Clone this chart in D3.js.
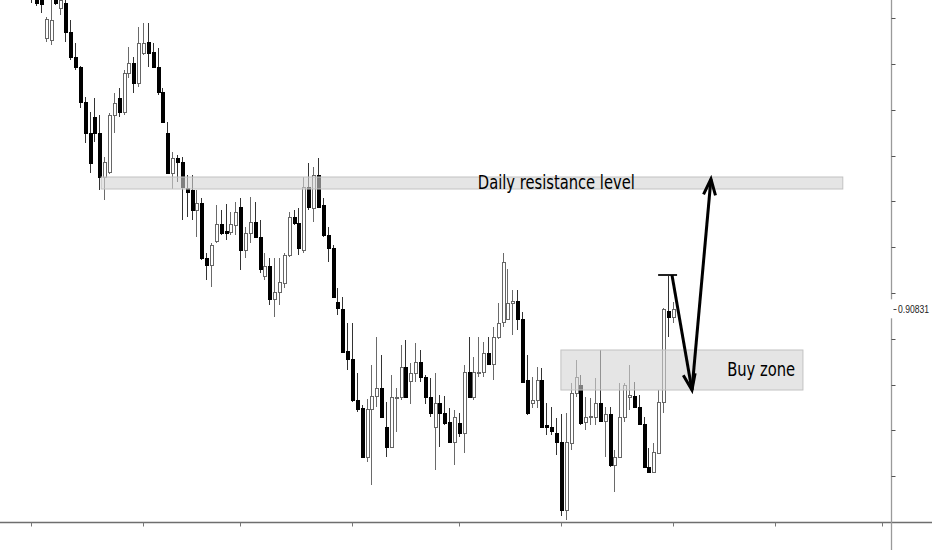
<!DOCTYPE html>
<html><head><meta charset="utf-8">
<script src="https://cdn.jsdelivr.net/npm/d3@7"></script>
<style>html,body{margin:0;padding:0;background:#fff;overflow:hidden}</style>
</head><body>
<svg id="chart" width="932" height="550"></svg>
<script>
// ---- data (chronological hourly candles) ----
const opens = [0.92450,0.92425,0.92400,0.92185,0.92175,0.92415,0.92335,0.92360,0.92215,0.92090,0.92040,0.91865,0.91710,0.91790,0.91710,0.91490,0.91515,0.91800,0.91885,0.91815,0.92010,0.92060,0.91960,0.92110,0.92165,0.92115,0.92040,0.91915,0.91710,0.91510,0.91585,0.91565,0.91435,0.91425,0.91325,0.91360,0.91085,0.91050,0.91170,0.91255,0.91220,0.91215,0.91250,0.91340,0.91125,0.91210,0.91265,0.91190,0.90995,0.91045,0.90880,0.90915,0.90960,0.91100,0.91290,0.91260,0.91125,0.91440,0.91335,0.91500,0.91350,0.91200,0.91135,0.90865,0.90830,0.90620,0.90580,0.90375,0.90335,0.90090,0.90330,0.90395,0.90435,0.90240,0.90140,0.90385,0.90390,0.90540,0.90470,0.90510,0.90565,0.90490,0.90390,0.90240,0.90360,0.90310,0.90265,0.90165,0.90260,0.90210,0.90515,0.90390,0.90510,0.90515,0.90610,0.90555,0.90690,0.90765,0.90780,0.90860,0.90870,0.90780,0.90475,0.90360,0.90375,0.90475,0.90250,0.90240,0.90210,0.90165,0.89825,0.90160,0.90410,0.90450,0.90265,0.90290,0.90290,0.90360,0.90270,0.90305,0.90050,0.90090,0.90290,0.90390,0.90395,0.90340,0.90255,0.90040,0.90015,0.90110,0.90365,0.90820,0.90790];
const highs = [0.92500,0.92475,0.92450,0.92290,0.92400,0.92450,0.92425,0.92385,0.92275,0.92160,0.92045,0.91890,0.91815,0.91885,0.91800,0.91590,0.91810,0.91910,0.91935,0.92025,0.92140,0.92090,0.92240,0.92260,0.92260,0.92160,0.92135,0.91935,0.91765,0.91615,0.91600,0.91590,0.91500,0.91500,0.91425,0.91385,0.91110,0.91160,0.91350,0.91325,0.91355,0.91315,0.91365,0.91385,0.91240,0.91390,0.91365,0.91275,0.91110,0.91085,0.91085,0.91085,0.91110,0.91315,0.91325,0.91335,0.91490,0.91560,0.91540,0.91585,0.91385,0.91240,0.91150,0.90935,0.90890,0.90760,0.90760,0.90510,0.90350,0.90380,0.90550,0.90690,0.90600,0.90365,0.90500,0.90435,0.90650,0.90675,0.90560,0.90660,0.90625,0.90500,0.90485,0.90510,0.90400,0.90395,0.90335,0.90325,0.90310,0.90550,0.90690,0.90590,0.90690,0.90665,0.90690,0.90740,0.90860,0.91110,0.91030,0.90925,0.90925,0.90815,0.90600,0.90490,0.90540,0.90535,0.90360,0.90340,0.90285,0.90305,0.90310,0.90460,0.90575,0.90500,0.90390,0.90385,0.90485,0.90625,0.90340,0.90340,0.90125,0.90460,0.90460,0.90550,0.90465,0.90400,0.90290,0.90135,0.90160,0.90425,0.90835,0.90995,0.90865];
const lows = [0.92360,0.92345,0.92310,0.92165,0.92150,0.92350,0.92300,0.92165,0.92075,0.92025,0.91835,0.91660,0.91510,0.91665,0.91425,0.91375,0.91505,0.91710,0.91790,0.91800,0.91985,0.91910,0.91940,0.92100,0.92040,0.92035,0.91900,0.91760,0.91505,0.91430,0.91465,0.91275,0.91290,0.91275,0.91190,0.91075,0.90975,0.90940,0.91160,0.91200,0.91175,0.91200,0.91200,0.91025,0.91085,0.91160,0.91185,0.91010,0.90975,0.90850,0.90790,0.90850,0.90935,0.91090,0.91250,0.91100,0.91110,0.91325,0.91265,0.91335,0.91190,0.91065,0.90885,0.90800,0.90610,0.90525,0.90365,0.90315,0.90085,0.90065,0.89950,0.90340,0.90285,0.90090,0.90135,0.90215,0.90375,0.90385,0.90355,0.90465,0.90465,0.90355,0.90290,0.90025,0.90140,0.90250,0.90160,0.90050,0.90190,0.90110,0.90385,0.90375,0.90490,0.90490,0.90550,0.90475,0.90680,0.90740,0.90775,0.90700,0.90725,0.90460,0.90300,0.90335,0.90335,0.90235,0.90200,0.90200,0.90100,0.89795,0.89775,0.90125,0.90390,0.90250,0.90225,0.90250,0.90250,0.90265,0.90090,0.90040,0.89915,0.90085,0.90265,0.90325,0.90335,0.90250,0.90035,0.90010,0.90010,0.90105,0.90310,0.90690,0.90760];
const closes = [0.92400,0.92360,0.92355,0.92280,0.92275,0.92360,0.92375,0.92215,0.92090,0.92040,0.91865,0.91710,0.91560,0.91710,0.91490,0.91565,0.91800,0.91860,0.91815,0.92010,0.92060,0.91960,0.92160,0.92160,0.92110,0.92040,0.91915,0.91765,0.91510,0.91585,0.91565,0.91440,0.91415,0.91325,0.91360,0.91085,0.91050,0.91150,0.91255,0.91210,0.91210,0.91255,0.91315,0.91125,0.91210,0.91265,0.91190,0.91030,0.91045,0.90880,0.90915,0.90965,0.91100,0.91290,0.91260,0.91135,0.91440,0.91340,0.91500,0.91340,0.91200,0.91135,0.90890,0.90835,0.90615,0.90580,0.90375,0.90330,0.90090,0.90330,0.90395,0.90435,0.90290,0.90140,0.90390,0.90390,0.90540,0.90390,0.90510,0.90565,0.90490,0.90390,0.90310,0.90360,0.90310,0.90260,0.90165,0.90290,0.90210,0.90515,0.90390,0.90515,0.90515,0.90610,0.90555,0.90690,0.90760,0.91065,0.90860,0.90870,0.90780,0.90465,0.90310,0.90375,0.90475,0.90240,0.90240,0.90220,0.90165,0.89825,0.90165,0.90410,0.90490,0.90260,0.90290,0.90295,0.90360,0.90270,0.90305,0.90050,0.90090,0.90290,0.90450,0.90400,0.90340,0.90255,0.90040,0.90015,0.90115,0.90365,0.90830,0.90790,0.90831];

// day-separator ticks on the time axis (candle index)
const dayTicks = [0, 23, 43, 66, 88, 109, 132, 153, 175];
// price-axis ticks (unlabelled)
const priceTicks = [0.89994, 0.90223, 0.90452, 0.90681, 0.90910, 0.91139, 0.91368, 0.91597, 0.91826, 0.92055, 0.92284];
const lastPrice = 0.90831;
const lastPriceLabel = "0.90831";

// annotations (time index, price)
const resistanceZone = [14.4, 167.0, 0.91430, 0.91490];
const resistanceLabel = ["Daily resistance level", 91.9, 0.91428];
const buyZone = [109.0, 158.8, 0.90425, 0.90625];
const buyLabel = ["Buy zone", 143.2, 0.90495];
const highMarker = [129.0, 132.9, 0.91000];
const arrowDown = [[131.85, 0.91000], [135.96, 0.90425]];
const arrowUp = [[135.96, 0.90425], [139.87, 0.91480]];

// ---- chart ----
const W = 932, H = 550;
const N = opens.length;
const x = d3.scaleLinear().domain([0, N - 1]).range([31.2, 672.7]);
const y = d3.scaleLinear().domain([0.89765, 0.92375]).range([522, 0]);
const axisX = 891.5, axisY = 522.5;

const svg = d3.select('#chart');
svg.append('rect').attr('width', W).attr('height', H).attr('fill', '#fff');

const defs = svg.append('defs');
defs.append('clipPath').attr('id', 'clip').append('rect')
  .attr('x', 0).attr('y', 0).attr('width', axisX - 0.5).attr('height', axisY - 0.5);
defs.append('marker').attr('id', 'head').attr('markerUnits', 'userSpaceOnUse')
  .attr('viewBox', '-20 -10 24 20').attr('refX', 0).attr('refY', 0)
  .attr('markerWidth', 24).attr('markerHeight', 20).attr('orient', 'auto')
  .append('path').attr('d', 'M-16,-6L0,0L-16,6').attr('fill', 'none')
  .attr('stroke', '#000').attr('stroke-width', 3).attr('stroke-linejoin', 'miter');

const plot = svg.append('g').attr('clip-path', 'url(#clip)');

const candles = d3.range(N).map(i => ({ i, o: opens[i], h: highs[i], l: lows[i], c: closes[i] }));
const cx = d => Math.round(x(d.i));

plot.append('g').selectAll('line').data(candles).join('line')
  .attr('x1', d => cx(d) + 0.5).attr('x2', d => cx(d) + 0.5)
  .attr('y1', d => y(d.h)).attr('y2', d => y(d.l))
  .attr('stroke', d => d.c >= d.o ? '#6a6a6a' : '#333').attr('stroke-width', 1)
  .attr('shape-rendering', 'crispEdges');

plot.append('g').selectAll('rect').data(candles).join('rect')
  .attr('x', d => cx(d) - 0.5).attr('width', 3)
  .attr('y', d => Math.round(y(Math.max(d.o, d.c))) + 0.5)
  .attr('height', d => Math.max(1, Math.round(y(Math.min(d.o, d.c))) - Math.round(y(Math.max(d.o, d.c)))))
  .attr('fill', d => d.c >= d.o ? '#fff' : '#000')
  .attr('stroke', d => d.c >= d.o ? '#666' : '#000').attr('stroke-width', 1)
  .attr('shape-rendering', 'crispEdges');

// zones
function zone(z) {
  plot.append('rect')
    .attr('x', x(z[0])).attr('width', x(z[1]) - x(z[0]))
    .attr('y', y(z[3])).attr('height', y(z[2]) - y(z[3]))
    .attr('fill', '#d4d4d4').attr('fill-opacity', 0.6)
    .attr('stroke', '#c2c2c2').attr('stroke-width', 1);
}
zone(resistanceZone);
zone(buyZone);

function label(l) {
  plot.append('text').attr('x', x(l[1])).attr('y', y(l[2]))
    .attr('font-family', "'DejaVu Sans Condensed','DejaVu Sans',sans-serif")
    .attr('font-size', 19).attr('fill', '#000')
    .attr('textLength', l[0] === 'Buy zone' ? 68 : 157).attr('lengthAdjust', 'spacingAndGlyphs')
    .text(l[0]);
}
label(resistanceLabel);
label(buyLabel);

// high marker and arrows
plot.append('line')
  .attr('x1', x(highMarker[0])).attr('x2', x(highMarker[1]))
  .attr('y1', y(highMarker[2])).attr('y2', y(highMarker[2]))
  .attr('stroke', '#222').attr('stroke-width', 2);
[arrowDown, arrowUp].forEach(a => {
  plot.append('line')
    .attr('x1', x(a[0][0])).attr('y1', y(a[0][1]))
    .attr('x2', x(a[1][0])).attr('y2', y(a[1][1]))
    .attr('stroke', '#000').attr('stroke-width', 3)
    .attr('marker-end', 'url(#head)');
});

// axes
svg.append('line').attr('x1', 0).attr('x2', W).attr('y1', axisY).attr('y2', axisY)
  .attr('stroke', '#6e6e6e').attr('stroke-width', 1.3);
svg.append('g').selectAll('line').data(dayTicks).join('line')
  .attr('x1', d => Math.round(x(d)) + 0.5).attr('x2', d => Math.round(x(d)) + 0.5)
  .attr('y1', axisY).attr('y2', axisY + 4)
  .attr('stroke', '#777').attr('stroke-width', 1);

svg.append('line').attr('x1', axisX).attr('x2', axisX).attr('y1', 0).attr('y2', H)
  .attr('stroke', '#9a9a9a').attr('stroke-width', 1.3);
svg.append('g').selectAll('line').data(priceTicks).join('line')
  .attr('x1', axisX).attr('x2', axisX + 4)
  .attr('y1', d => Math.round(y(d)) + 0.5).attr('y2', d => Math.round(y(d)) + 0.5)
  .attr('stroke', '#555').attr('stroke-width', 1);

// last price label
const ly = y(lastPrice);
svg.append('rect').attr('x', axisX - 2).attr('y', ly - 9.5).attr('width', W - axisX + 2).attr('height', 19).attr('fill', '#fff');
svg.append('line').attr('x1', axisX + 2).attr('x2', axisX + 5)
  .attr('y1', Math.round(ly) + 0.5).attr('y2', Math.round(ly) + 0.5).attr('stroke', '#444');
svg.append('text')
  .attr('transform', `translate(${axisX + 6.5},${ly + 4}) scale(0.78,1)`)
  .attr('font-family', "'Liberation Sans',Arial,sans-serif")
  .attr('font-size', 11).attr('fill', '#222')
  .text(lastPriceLabel);
</script>
</body></html>
